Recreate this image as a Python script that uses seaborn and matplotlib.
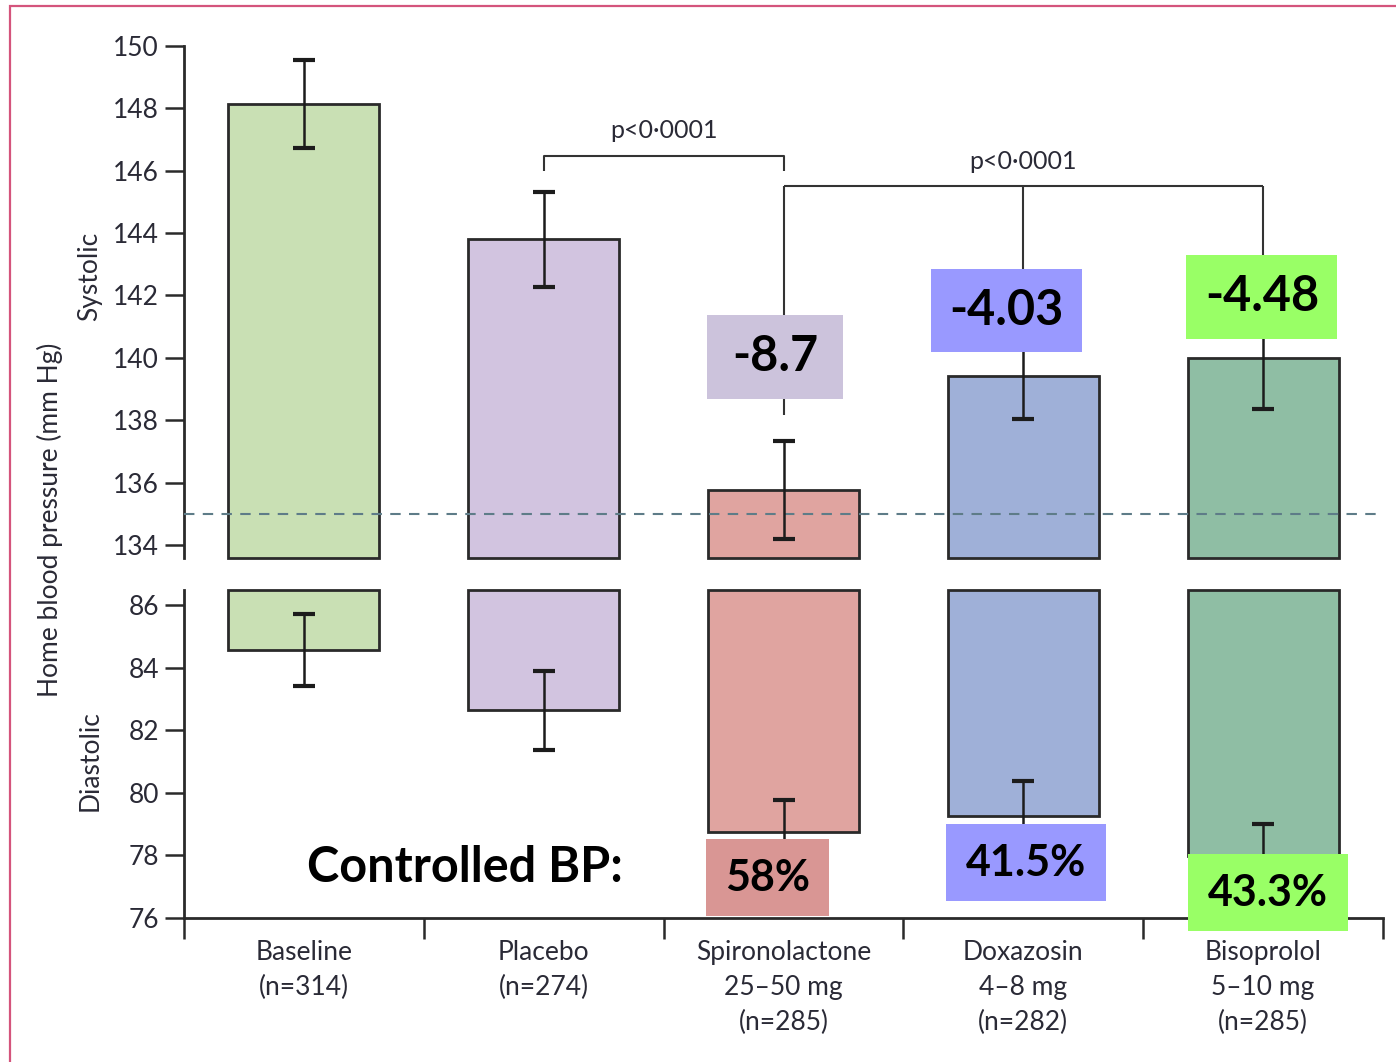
import matplotlib
matplotlib.use("Agg")
import matplotlib.pyplot as plt
from matplotlib.patches import Rectangle
import pandas as pd
import seaborn as sns

# ---- data -------------------------------------------------------------
groups = [
    "Baseline\n(n=314)",
    "Placebo\n(n=274)",
    "Spironolactone\n25–50 mg\n(n=285)",
    "Doxazosin\n4–8 mg\n(n=282)",
    "Bisoprolol\n5–10 mg\n(n=285)",
]
systolic = [148.15, 143.8, 135.77, 139.42, 140.0]
systolic_err = [1.41, 1.52, 1.57, 1.38, 1.63]
diastolic = [84.57, 82.63, 78.75, 79.27, 77.98]
diastolic_err = [1.15, 1.27, 1.02, 1.12, 1.02]
target_systolic = 135

bar_colors = ["#C9E0B4", "#D2C4E0", "#E0A4A0", "#9FB0D8", "#8FBEA4"]

sys_change = ["-8.7", "-4.03", "-4.48"]
controlled_bp = ["58%", "41.5%", "43.3%"]
p_values = ["p<0·0001", "p<0·0001"]

# ---- style ------------------------------------------------------------
sns.set_style("ticks")
plt.rcParams["font.family"] = ["Lato", "DejaVu Sans"]
TXT = "#2a2a36"
EDGE = "#2a2a2a"

W_PX, H_PX = 1396, 1062
fig = plt.figure(figsize=(W_PX / 100, H_PX / 100), dpi=100)
left = 184 / W_PX
width = (1383 - 184) / W_PX
ax_top = fig.add_axes([left, 1 - 558 / H_PX, width, (558 - 46) / H_PX])
ax_bot = fig.add_axes([left, 1 - 918 / H_PX, width, (918 - 590) / H_PX])

top_lim = (133.58, 150)
bot_lim = (76, 86.48)

df = pd.DataFrame({"group": groups, "sys": systolic, "dia": diastolic})
pal = dict(zip(groups, bar_colors))
bar_w = 0.63

# systolic bars rise from the bottom of the upper panel
sns.barplot(data=df, x="group", y="sys", hue="group", palette=pal, order=groups,
            hue_order=groups, legend=False, errorbar=None, width=bar_w,
            saturation=1, edgecolor=EDGE, linewidth=2, ax=ax_top)
# diastolic bars hang from the top of the lower panel
sns.barplot(data=df, x="group", y="dia", hue="group", palette=pal, order=groups,
            hue_order=groups, legend=False, errorbar=None, width=bar_w,
            saturation=1, edgecolor=EDGE, linewidth=2, ax=ax_bot)

for p in ax_top.patches:
    i = int(round(p.get_x() + p.get_width() / 2))
    p.set_y(top_lim[0])
    p.set_height(systolic[i] - top_lim[0])
    p.set_clip_on(False)
    p.set_zorder(2)
for p in ax_bot.patches:
    i = int(round(p.get_x() + p.get_width() / 2))
    p.set_y(diastolic[i])
    p.set_height(bot_lim[1] - diastolic[i])
    p.set_clip_on(False)
    p.set_zorder(2)

xs = list(range(len(groups)))
err_kw = dict(fmt="none", ecolor="#1c1c1c", elinewidth=1.8, capsize=8,
              capthick=3, zorder=4)
ax_top.errorbar(xs, systolic, yerr=systolic_err, **err_kw)
ax_bot.errorbar(xs, diastolic, yerr=diastolic_err, **err_kw)

# target line
ax_top.axhline(target_systolic, color="#5E7C88", lw=1.5, ls=(0, (5, 4)), zorder=3)

# ---- axes formatting --------------------------------------------------
for ax, lim, ticks in ((ax_top, top_lim, range(134, 151, 2)),
                       (ax_bot, bot_lim, range(76, 87, 2))):
    ax.set_xlim(-0.5, len(groups) - 0.5)
    ax.set_ylim(*lim)
    ax.set_yticks(list(ticks))
    ax.set_xlabel("")
    ax.set_ylabel("")
    ax.spines["top"].set_visible(False)
    ax.spines["right"].set_visible(False)
    ax.spines["left"].set_color(EDGE)
    ax.spines["left"].set_linewidth(2)
    ax.tick_params(axis="y", direction="out", length=14, width=1.8,
                   color=EDGE, labelsize=19, labelcolor=TXT, pad=4)
    ax.set_facecolor("none")

ax_top.spines["bottom"].set_visible(False)
ax_top.tick_params(axis="x", bottom=False, labelbottom=False)
ax_top.spines["left"].set_bounds(top_lim[0], 150)

ax_bot.spines["bottom"].set_color(EDGE)
ax_bot.spines["bottom"].set_linewidth(2)
ax_bot.set_xticks(xs)
ax_bot.set_xticklabels(groups, fontsize=19, color=TXT, va="top")
for lab in ax_bot.get_xticklabels():
    lab.set_linespacing(1.5)
ax_bot.set_xticks([x - 0.5 for x in range(len(groups) + 1)], minor=True)
ax_bot.tick_params(axis="x", which="major", length=0, pad=16)
ax_bot.tick_params(axis="x", which="minor", direction="out", length=15,
                   width=1.8, color=EDGE)

# ---- significance brackets -------------------------------------------
br_kw = dict(color="#333333", lw=1.5, zorder=1, solid_capstyle="butt")
ax_top.plot([1, 1, 2, 2], [146.0, 146.47, 146.47, 146.0], **br_kw)
ax_top.text(1.5, 147.3, p_values[0], ha="center", va="center", fontsize=18,
            color=TXT)
ax_top.plot([2, 4], [145.51, 145.51], **br_kw)
ax_top.plot([2, 2], [145.51, 138.17], **br_kw)
ax_top.plot([3, 3], [145.51, systolic[3] + systolic_err[3]], **br_kw)
ax_top.plot([4, 4], [145.51, systolic[4] + systolic_err[4]], **br_kw)
ax_top.text(3, 146.28, p_values[1], ha="center", va="center", fontsize=18,
            color=TXT)


def value_box(ax, x, y, w, h, text, face, size):
    ax.add_patch(Rectangle((x - w / 2, y - h / 2), w, h, facecolor=face,
                           edgecolor="none", zorder=6, clip_on=False))
    ax.text(x, y, text, ha="center", va="center", fontsize=size,
            fontweight="bold", color="black", zorder=7, clip_on=False)


# change in systolic pressure versus placebo
value_box(ax_top, 1.965, 140.03, 0.567, 2.69, sys_change[0], "#CCC3DC", 35)
value_box(ax_top, 2.93, 141.51, 0.63, 2.66, sys_change[1], "#9999FF", 35)
value_box(ax_top, 3.995, 141.96, 0.63, 2.69, sys_change[2], "#99FF66", 35)

# share of patients with controlled blood pressure
ax_bot.text(0.013, 77.6, "Controlled BP:", ha="left", va="center",
            fontsize=35, fontweight="bold", color="black", zorder=7)
value_box(ax_bot, 1.935, 77.28, 0.513, 2.46, controlled_bp[0], "#D99694", 31)
value_box(ax_bot, 3.01, 77.76, 0.667, 2.46, controlled_bp[1], "#9999FF", 31)
value_box(ax_bot, 4.02, 76.8, 0.667, 2.46, controlled_bp[2], "#99FF66", 31)

# ---- axis titles -----------------------------------------------------
fig.text(90 / W_PX, 1 - 276 / H_PX, "Systolic", rotation=90, ha="center",
         va="center", fontsize=19, color=TXT)
fig.text(90 / W_PX, 1 - 761 / H_PX, "Diastolic", rotation=90, ha="center",
         va="center", fontsize=19, color=TXT)
fig.text(50 / W_PX, 1 - 520 / H_PX, "Home blood pressure (mm Hg)", rotation=90,
         ha="center", va="center", fontsize=19, color=TXT)

# frame around the figure
fig.add_artist(Rectangle((10 / W_PX, -0.05), 2, 1.05 - 6 / H_PX,
                         transform=fig.transFigure, fill=False,
                         edgecolor="#D4547C", lw=1.6, zorder=0))

fig.savefig("out.png", dpi=100)
